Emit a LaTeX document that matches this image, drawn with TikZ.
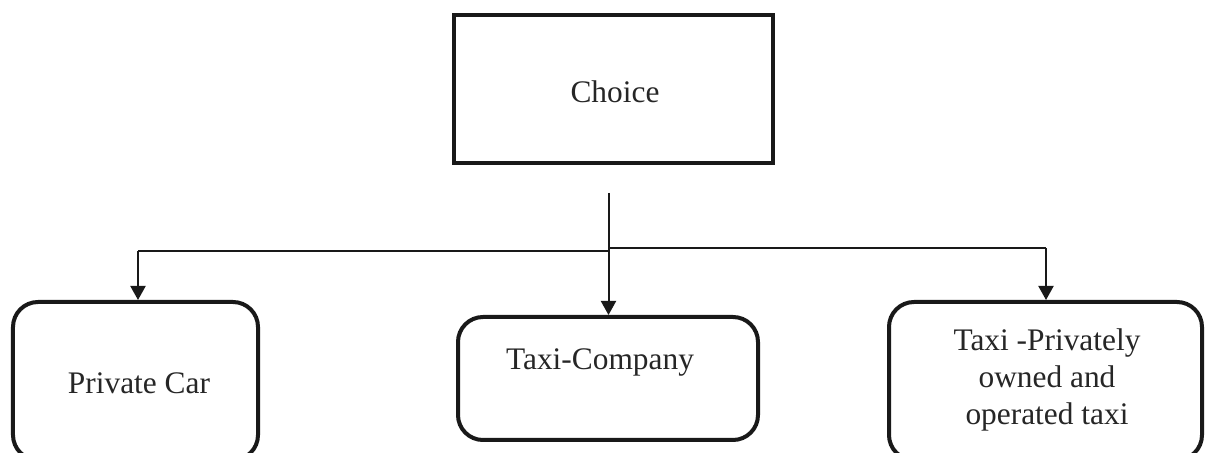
\documentclass[tikz,border=0pt]{standalone}
\usepackage{fontspec}
\setmainfont{Liberation Serif}
\usetikzlibrary{arrows.meta}
\begin{document}
\begin{tikzpicture}[x=1bp,y=-1bp,
  boxtext/.style={font=\fontsize{31.5}{37.5}\selectfont, text=black!85, inner sep=0pt},
  mainbox/.style={draw=black!90, line width=4bp, inner sep=0pt},
  roundbox/.style={mainbox, rounded corners=25bp},
  conn/.style={draw=black!90, line width=2bp},
  arr/.style={conn, -{Triangle[length=14bp,width=15bp]}}]
\clip (0,0) rectangle (1205,453);
\fill[white] (0,0) rectangle (1205,453);
% boxes
\node[mainbox, minimum width=319bp, minimum height=148bp] (choice) at (613.5,89) {};
\node[boxtext] (choicet) at (615,92) {Choice};
\node[roundbox, minimum width=245bp, minimum height=158bp] (pc) at (135.5,381) {};
\node[boxtext] (pct) at (139,383) {Private Car};
\node[roundbox, minimum width=300bp, minimum height=123bp] (tc) at (608,378.5) {};
\node[boxtext] (tct) at (600,362) {Taxi-Company};
\node[roundbox, minimum width=313bp, minimum height=158bp] (tp) at (1045.5,381) {};
\node[boxtext, align=center] (tpt) at (1047,380) {Taxi -Privately\\owned and\\operated taxi};
% connectors
\coordinate (top) at (608.5,193);
\coordinate (jl) at (608.5,251);
\coordinate (jr) at (608.5,248);
\coordinate (cl) at (138,251);
\coordinate (cr) at (1046,248);
\draw[arr] (top) -- (tc.north -| top);
\draw[conn] (jl) -- (cl);
\draw[arr] (cl) -- (pc.north -| cl);
\draw[conn] (jr) -- (cr);
\draw[arr] (cr) -- (tp.north -| cr);
\end{tikzpicture}
\end{document}
